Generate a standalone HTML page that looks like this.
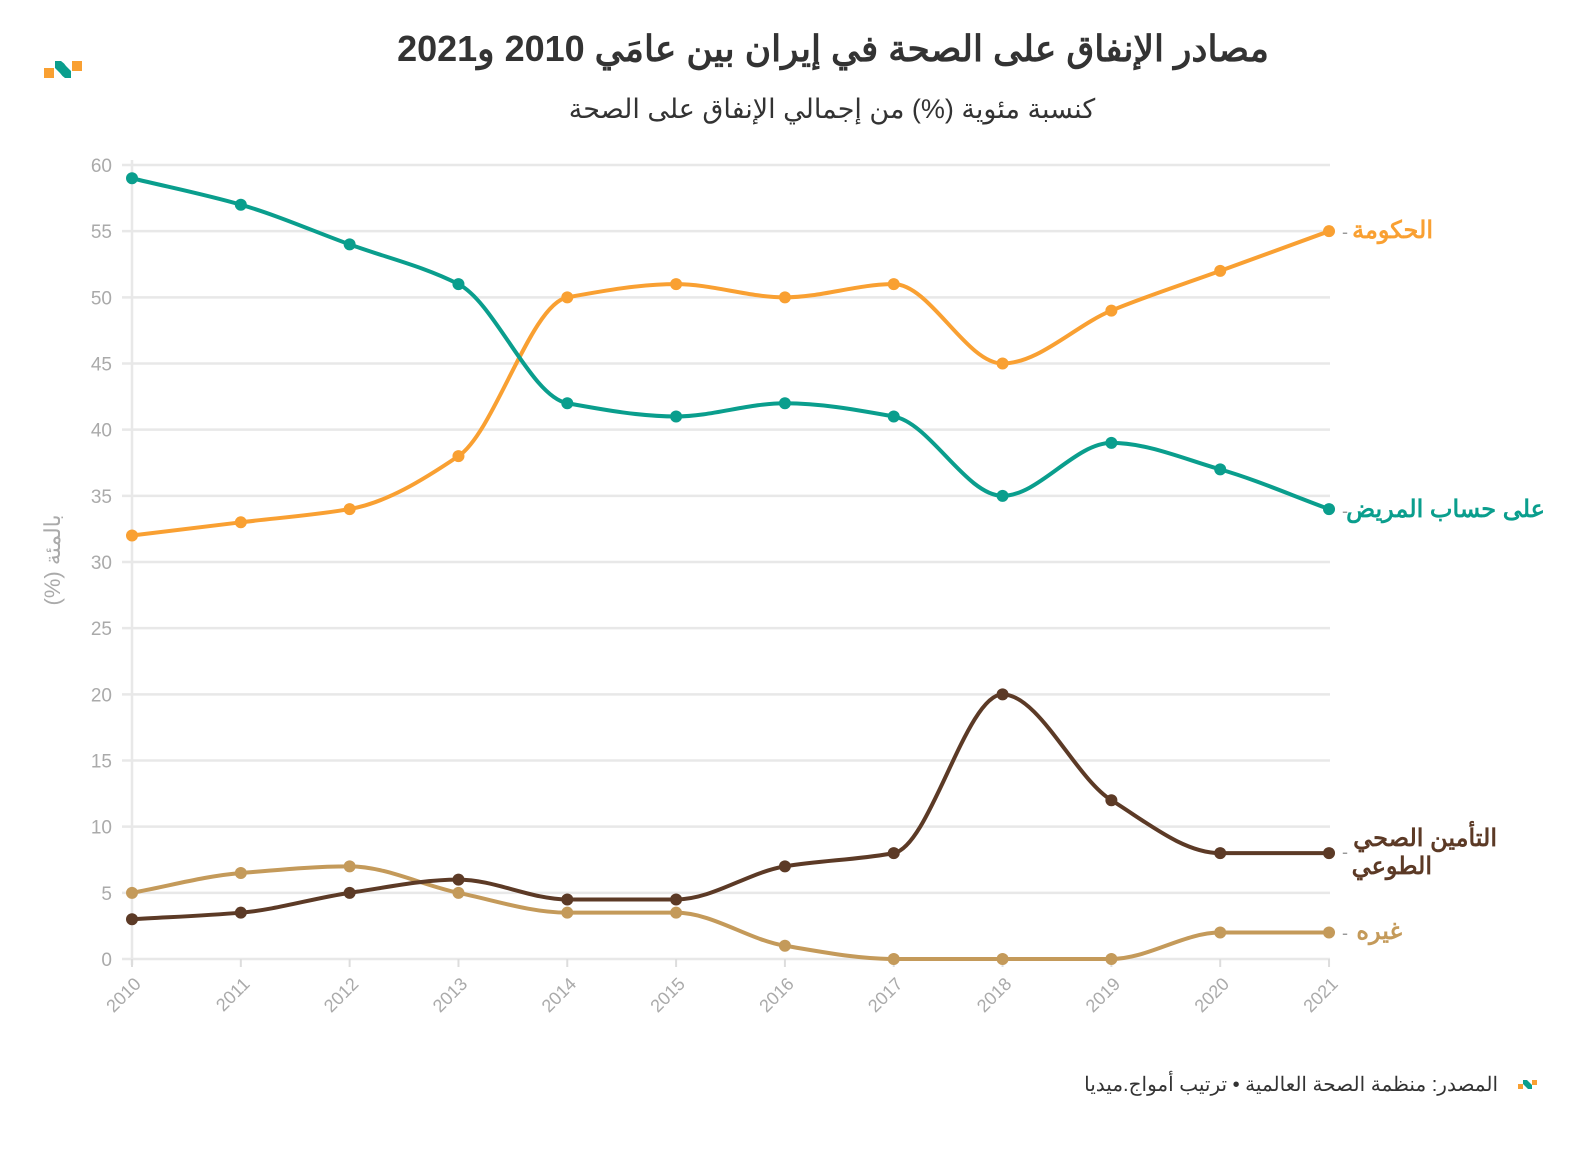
<!DOCTYPE html><html><head><meta charset="utf-8"><style>
body{margin:0;background:#fff;width:1592px;height:1150px;overflow:hidden;font-family:"Liberation Sans","Noto Sans CJK SC",sans-serif;position:relative}
#foot{position:absolute;right:94px;top:1072px;font-size:20px;color:#333;direction:rtl;white-space:nowrap}
</style></head><body>
<svg id="s" width="1592" height="1150" xmlns="http://www.w3.org/2000/svg" font-family="Liberation Sans, Noto Sans CJK SC, sans-serif">
<rect x="44" y="68" width="10" height="10" fill="#f9a032"/><rect x="72" y="61" width="10" height="10" fill="#f9a032"/>
<path d="M55 61 L61 61 Q64 63 66 66 L71 71 L71 78 L65 78 Q62 76 60 73 L55 68Z" fill="#0a9e8d"/>
<text x="833" y="61" text-anchor="middle" font-size="36" font-weight="bold" fill="#333" direction="rtl">مصادر الإنفاق على الصحة في إيران بين عامَي 2010 و2021</text>
<text x="832" y="118" text-anchor="middle" font-size="27" fill="#333" direction="rtl">كنسبة مئوية (%) من إجمالي الإنفاق على الصحة</text>
<g id="grid"></g><g id="lines"></g>
<text transform="translate(60,560) rotate(-90)" text-anchor="middle" font-size="22" fill="#aaa" direction="rtl">بالمئة (%)</text>
<text x="1433" y="238" text-anchor="end" font-size="24" font-weight="bold" fill="#f9a032">الحكومة</text>
<text x="1545" y="517" text-anchor="end" font-size="24" font-weight="bold" fill="#0a9e8d">على حساب المريض</text>
<text x="1497" y="846" text-anchor="end" font-size="24" font-weight="bold" fill="#5c3a26">التأمين الصحي</text>
<text x="1432" y="874" text-anchor="end" font-size="24" font-weight="bold" fill="#5c3a26">الطوعي</text>
<text x="1402" y="939" text-anchor="end" font-size="24" font-weight="bold" fill="#c49a5a">غيره</text>
<text x="1342" y="238" font-size="18" fill="#999">-</text><text x="1342" y="517" font-size="18" fill="#999">-</text><text x="1342" y="858" font-size="18" fill="#999">-</text><text x="1342" y="939" font-size="18" fill="#999">-</text>
<rect x="1518" y="1084" width="5" height="5" fill="#f9a032"/><rect x="1532" y="1080" width="5" height="5" fill="#f9a032"/><path d="M1523 1080 L1527 1080 L1532 1085 L1532 1089 L1528 1089 L1523 1084Z" fill="#0a9e8d"/>
</svg>
<div id="foot">المصدر: منظمة الصحة العالمية • ترتيب أمواج.ميديا</div>
<script>
const NS="http://www.w3.org/2000/svg",X=i=>132+i*108.82,Y=v=>959-v*13.233;
const g=document.getElementById('grid'),L=document.getElementById('lines');
function el(p,t,a,txt){const e=document.createElementNS(NS,t);for(const k in a)e.setAttribute(k,a[k]);if(txt!=null)e.textContent=txt;p.appendChild(e);return e}
for(let v=0;v<=60;v+=5){el(g,'line',{x1:122,x2:1330,y1:Y(v),y2:Y(v),stroke:'#e8e8e8','stroke-width':2.5});el(g,'text',{x:112,y:Y(v)+7,'text-anchor':'end','font-size':19,fill:'#aaa'},v)}
el(g,'line',{x1:132,x2:132,y1:160,y2:965,stroke:'#e8e8e8','stroke-width':2.5});
for(let i=0;i<12;i++){el(g,'line',{x1:X(i),x2:X(i),y1:959,y2:967,stroke:'#ddd','stroke-width':2});el(g,'text',{x:X(i)+10,y:985,'text-anchor':'end','font-size':18,fill:'#aaa',transform:`rotate(-45 ${X(i)+10} 985)`},2010+i)}
function mono(ys){const n=ys.length,h=108.82,d=[],m=[];for(let i=0;i<n-1;i++)d.push((ys[i+1]-ys[i])/h);
for(let i=0;i<n;i++){if(i==0)m.push(d[0]);else if(i==n-1)m.push(d[n-2]);else{const a=d[i-1],b=d[i];m.push(a*b<=0?0:3*(a+b)/((2*b+a)/a+(b+2*a)/b));}}
let p=`M${X(0)},${ys[0]}`;for(let i=0;i<n-1;i++){const x0=X(i),x1=X(i+1);p+=`C${x0+h/3},${ys[i]+m[i]*h/3} ${x1-h/3},${ys[i+1]-m[i+1]*h/3} ${x1},${ys[i+1]}`}return p}
const S=[["#f9a032",[32,33,34,38,50,51,50,51,45,49,52,55]],["#0a9e8d",[59,57,54,51,42,41,42,41,35,39,37,34]],["#c49a5a",[5,6.5,7,5,3.5,3.5,1,0,0,0,2,2]],["#5c3a26",[3,3.5,5,6,4.5,4.5,7,8,20,12,8,8]]];
for(const [c,v] of S){const ys=v.map(Y);el(L,'path',{d:mono(ys),fill:'none',stroke:c,'stroke-width':4});ys.forEach((y,i)=>el(L,'circle',{cx:X(i),cy:y,r:6,fill:c}))}
</script></body></html>
